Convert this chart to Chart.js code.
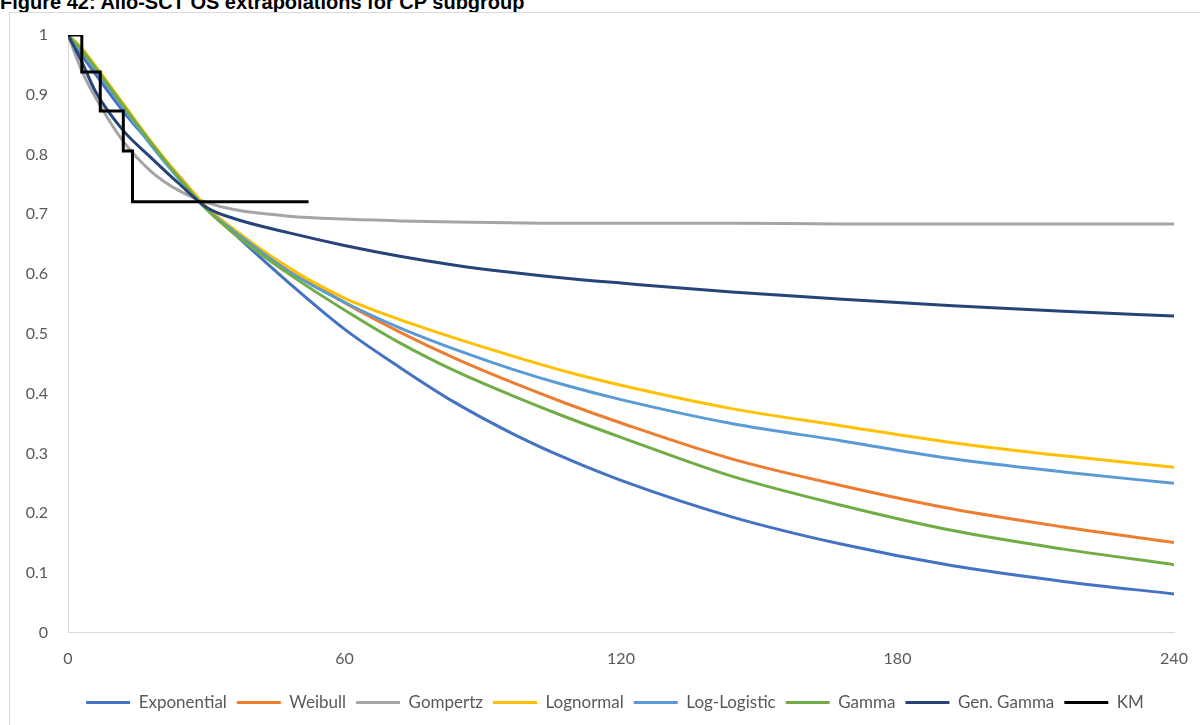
<!DOCTYPE html>
<html>
<head>
<meta charset="utf-8">
<script src="https://cdn.jsdelivr.net/npm/chart.js@4"></script>
<style>
  body { margin: 0; background: #fff; width: 1200px; height: 725px; overflow: hidden; position: relative; }
  #title { position: absolute; left: 0; top: -8px; font: bold 20px "Liberation Sans", Arial, sans-serif; line-height: 20px; color: #000; white-space: nowrap; }
  #frame { position: absolute; left: 9px; top: 12px; width: 1200px; height: 720px; border: 1px solid #d9d9d9; box-sizing: border-box; }
  #wrap { position: absolute; left: 0; top: 0; width: 1210px; height: 725px; }
</style>
</head>
<body>
<div id="title">Figure 42: Allo-SCT OS extrapolations for CP subgroup</div>
<div id="frame"></div>
<div id="wrap"><canvas id="grafico"></canvas></div>
<script>
// months
var mesi = [0, 3, 6, 12, 18, 24, 30, 36, 48, 60, 72, 84, 96, 108, 120, 144, 168, 192, 216, 240];

var exponential = [1, 0.966, 0.934, 0.872, 0.818, 0.765, 0.712, 0.668, 0.585, 0.508, 0.444, 0.385, 0.335, 0.292, 0.255, 0.194, 0.148, 0.112, 0.086, 0.065];
var weibull     = [1, 0.972, 0.942, 0.880, 0.820, 0.763, 0.710, 0.670, 0.610, 0.552, 0.503, 0.459, 0.420, 0.384, 0.351, 0.291, 0.246, 0.207, 0.177, 0.151];
var gompertz    = [1, 0.940, 0.895, 0.822, 0.772, 0.740, 0.720, 0.708, 0.697, 0.692, 0.689, 0.687, 0.686, 0.685, 0.685, 0.685, 0.684, 0.684, 0.684, 0.684];
var lognormal   = [1, 0.978, 0.948, 0.885, 0.822, 0.765, 0.713, 0.675, 0.610, 0.560, 0.524, 0.493, 0.464, 0.437, 0.414, 0.375, 0.346, 0.318, 0.296, 0.277];
var loglogistic = [1, 0.972, 0.942, 0.878, 0.816, 0.760, 0.709, 0.672, 0.604, 0.553, 0.510, 0.474, 0.442, 0.414, 0.390, 0.350, 0.321, 0.291, 0.269, 0.250];
var gamma       = [1, 0.975, 0.945, 0.882, 0.820, 0.762, 0.709, 0.668, 0.600, 0.540, 0.485, 0.438, 0.398, 0.361, 0.327, 0.262, 0.213, 0.171, 0.140, 0.114];
var genGamma    = [1, 0.955, 0.905, 0.840, 0.795, 0.752, 0.712, 0.693, 0.669, 0.648, 0.630, 0.615, 0.603, 0.593, 0.585, 0.570, 0.558, 0.547, 0.538, 0.530];

// Kaplan-Meier steps
var kmMesi = [0, 3, 7, 12, 14, 52.2];
var kmVal  = [1, 0.938, 0.873, 0.806, 0.721, 0.721];

var xTicks = [0, 60, 120, 180, 240];
var yTicks = [0, 0.1, 0.2, 0.3, 0.4, 0.5, 0.6, 0.7, 0.8, 0.9, 1];

function punti(xs, ys){
  return xs.map(function(x, i){ return {x: x, y: ys[i]}; });
}

var serie = [
  ['Exponential', exponential, '#4472C4'],
  ['Weibull', weibull, '#ED7D31'],
  ['Gompertz', gompertz, '#A5A5A5'],
  ['Lognormal', lognormal, '#FFC000'],
  ['Log-Logistic', loglogistic, '#5B9BD5'],
  ['Gamma', gamma, '#70AD47'],
  ['Gen. Gamma', genGamma, '#264478']
];

var datasets = serie.map(function(s, i){
  return {
    label: s[0],
    data: punti(mesi, s[1]),
    borderColor: s[2],
    backgroundColor: s[2],
    borderWidth: 3,
    pointRadius: 0,
    cubicInterpolationMode: 'monotone',
    order: 10 - i
  };
});

datasets.push({
  label: 'KM',
  data: punti(kmMesi, kmVal),
  borderColor: '#000000',
  backgroundColor: '#000000',
  borderWidth: 3,
  pointRadius: 0,
  stepped: true,
  order: 0
});

Chart.defaults.font.family = 'Lato, "Liberation Sans", sans-serif';
Chart.defaults.font.size = 16;
Chart.defaults.color = '#595959';

new Chart(document.getElementById('grafico'), {
  type: 'line',
  data: { datasets: datasets },
  options: {
    responsive: true,
    maintainAspectRatio: false,
    animation: false,
    layout: { padding: { left: 20, right: 0, top: 35, bottom: 4 } },
    plugins: {
      tooltip: { enabled: false },
      legend: {
        position: 'bottom',
        labels: {
          boxWidth: 44,
          boxHeight: 3,
          padding: 10,
          font: { size: 17 },
          color: '#595959',
          sort: function(a, b){ return a.datasetIndex - b.datasetIndex; },
          generateLabels: function(chart){
            var items = Chart.defaults.plugins.legend.labels.generateLabels(chart);
            items.forEach(function(it){ it.lineWidth = 0; });
            return items;
          }
        }
      }
    },
    scales: {
      x: {
        type: 'linear',
        min: 0,
        max: 240,
        afterBuildTicks: function(axis){ axis.ticks = xTicks.map(function(v){ return {value: v}; }); },
        afterFit: function(axis){ axis.paddingRight = 36; },
        grid: { display: false, drawTicks: false },
        border: { color: '#d9d9d9', width: 1 },
        ticks: { padding: 16, maxRotation: 0 }
      },
      y: {
        min: 0,
        max: 1,
        afterBuildTicks: function(axis){ axis.ticks = yTicks.map(function(v){ return {value: v}; }); },
        afterFit: function(axis){ axis.width = 48; },
        grid: { display: false, drawTicks: false },
        border: { color: '#d9d9d9', width: 1 },
        ticks: {
          padding: 20,
          callback: function(v){ return String(Math.round(v * 10) / 10); }
        }
      }
    }
  }
});
</script>
</body>
</html>
